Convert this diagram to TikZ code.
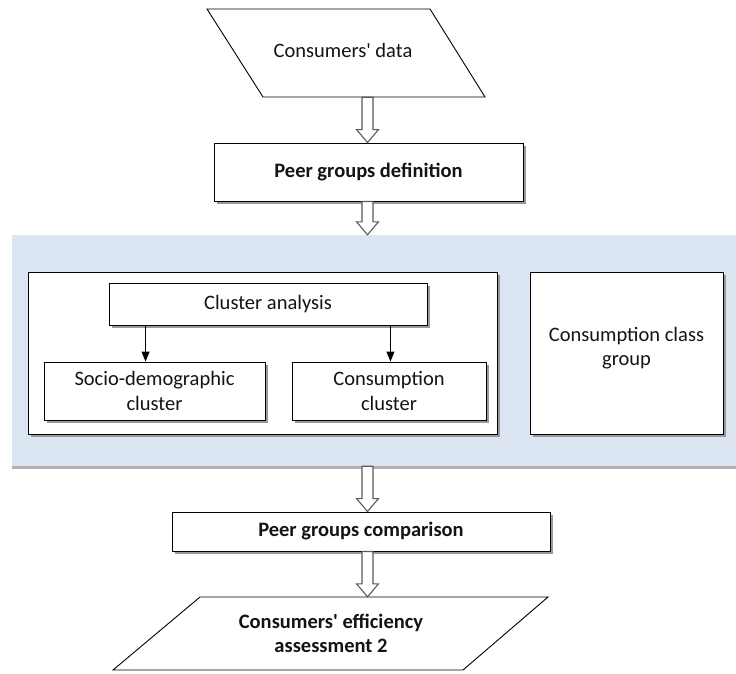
\documentclass[tikz,border=0pt]{standalone}
\usepackage{fontspec}
\setmainfont{Carlito}
\usetikzlibrary{calc,arrows.meta,shadows}
\definecolor{panelblue}{HTML}{DCE6F2}
\definecolor{ink}{HTML}{141414}
\definecolor{arrowline}{HTML}{5A5A5A}

% hollow block arrow running down the common axis from #1 to #2
\newcommand\hollowarrow[2]{%
  \draw[harrow] let \p1=(axis |- #1), \p2=(axis |- #2) in
    (\x1-5.5pt,\y1) -- (\x1-5.5pt,\y2+13pt) -- (\x1-11pt,\y2+13pt) -- (\x1,\y2)
    -- (\x1+11pt,\y2+13pt) -- (\x1+5.5pt,\y2+13pt) -- (\x1+5.5pt,\y1) -- cycle;}

\begin{document}
\begin{tikzpicture}[x=1pt,y=-1pt,
  txt/.style={font=\fontsize{20.5}{24.5}\selectfont, text=ink, align=center, inner sep=0pt},
  shade box/.style={drop shadow={shadow xshift=2.5pt, shadow yshift=-2.5pt, fill=black!40, opacity=1}},
  box/.style={txt, draw=black, line width=0.9pt, fill=white, shade box},
  panel/.style={draw=none, fill=panelblue, inner sep=0pt,
    drop shadow={shadow xshift=0pt, shadow yshift=-3pt, fill=black!30, opacity=1}},
  iobox/.style={draw=black, line width=0.9pt, fill=white},
  harrow/.style={draw=arrowline, line width=1.1pt, fill=white, line join=miter},
  ptr/.style={draw=black, line width=0.9pt, -{Triangle[length=10pt,width=8pt]}}]

\useasboundingbox (0,0) rectangle (736,673);
\coordinate (axis) at (367.5,0);

% input data
\draw[iobox] (207,9) -- (430,9) -- (485,97) -- (263,97) -- cycle;
\node[txt, minimum height=94pt] (data) at (343,50) {Consumers\textquotesingle\ data};

% peer groups definition
\node[box, minimum width=309pt, minimum height=58pt] (pgd) at (368.5,172)
  {\textbf{Peer groups definition}};

% shaded panel holding the grouping methods
\node[panel, minimum width=724pt, minimum height=231pt] (panel) at (374,350.5) {};
\node[box, minimum width=469pt, minimum height=162pt] (clbox) at (262.5,353) {};
\node[box, minimum width=318pt, minimum height=42pt] (cluster) at (268,304) {Cluster analysis};
\node[box, minimum width=221pt, minimum height=58pt] (socio) at (154.5,391)
  {Socio-demographic\\cluster};
\node[box, minimum width=194pt, minimum height=58pt] (cons) at (389,391)
  {Consumption\\cluster};
\node[box, minimum width=193pt, minimum height=162pt] (class) at (626.5,353) {};
\node[txt] (classtxt) at (626.5,348) {Consumption class\\group};

\coordinate (ca1) at ([xshift=37pt]cluster.south west);
\coordinate (ca2) at ([xshift=-37pt]cluster.south east);
\draw[ptr] (ca1) -- (ca1 |- socio.north);
\draw[ptr] (ca2) -- (ca2 |- cons.north);

% peer groups comparison
\node[box, minimum width=378pt, minimum height=39pt] (cmp) at (361,531.5)
  {\textbf{Peer groups comparison}};

% output assessment
\draw[iobox] (200,597) -- (548,597) -- (463,670) -- (113,670) -- cycle;
\node[txt, minimum height=73pt] (eff) at (331,633.5)
  {\textbf{Consumers\textquotesingle\ efficiency}\\\textbf{assessment 2}};

% block arrows between the stages
\hollowarrow{data.south}{pgd.north}
\hollowarrow{pgd.south}{panel.north}
\hollowarrow{panel.south}{cmp.north}
\hollowarrow{cmp.south}{eff.north}
\end{tikzpicture}
\end{document}
